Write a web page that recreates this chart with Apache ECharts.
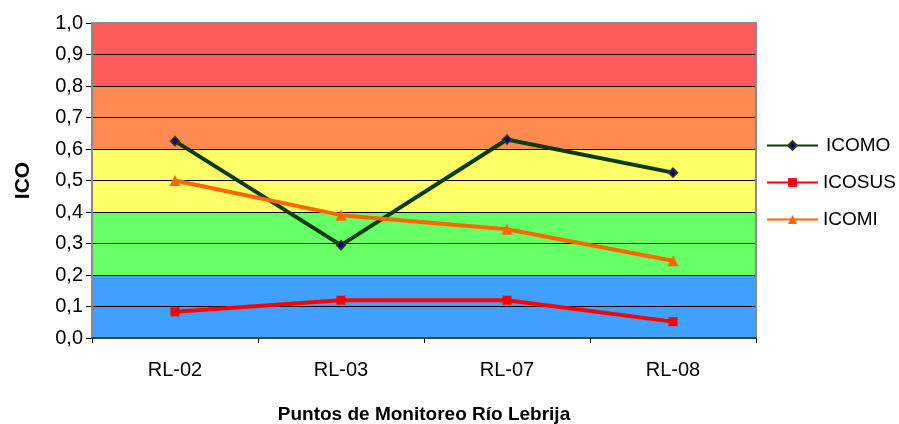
<!DOCTYPE html>
<html>
<head>
<meta charset="utf-8">
<script src="https://cdn.jsdelivr.net/npm/echarts@6/dist/echarts.min.js"></script>
<style>
html,body{margin:0;padding:0;background:#fff;}
#chart{width:899px;height:424px;}
</style>
</head>
<body>
<div id="chart"></div>
<script>
const categories = ['RL-02', 'RL-03', 'RL-07', 'RL-08'];
const icomo = [0.625, 0.295, 0.63, 0.525];
const icosus = [0.083, 0.12, 0.12, 0.052];
const icomi = [0.50, 0.39, 0.345, 0.245];
const bandLimits = [0, 0.2, 0.4, 0.6, 0.8, 1.0];
const bandColors = ['#40A0FF', '#66FF66', '#FFFF66', '#FF8B52', '#FF5B5B'];
const yTicks = [0, 0.1, 0.2, 0.3, 0.4, 0.5, 0.6, 0.7, 0.8, 0.9, 1.0];

const FONT = 'Liberation Sans, Arial, sans-serif';
const bandAreas = bandColors.map((c, i) => [
  { yAxis: bandLimits[i], itemStyle: { color: c } },
  { yAxis: bandLimits[i + 1] }
]);

const chart = echarts.init(document.getElementById('chart'));
chart.setOption({
  backgroundColor: '#fff',
  animation: false,
  grid: { left: 92, right: 143, top: 23, bottom: 86, containLabel: false, outerBoundsMode: 'none',
    show: true, borderColor: '#8a8a8a', borderWidth: 2, backgroundColor: 'transparent', z: 5 },
  legend: {
    orient: 'vertical',
    left: 766,
    top: 136,
    padding: 0,
    itemWidth: 51,
    itemHeight: 11,
    itemGap: 18,
    data: ['ICOMO', 'ICOSUS', 'ICOMI'],
    textStyle: { fontFamily: FONT, fontSize: 19, color: '#000',
      rich: { p: { padding: [0, 0, 0, 3], fontFamily: FONT, fontSize: 19, color: '#000' } } },
    formatter: n => n === 'ICOMO' ? '{p|' + n + '}' : n
  },
  xAxis: {
    type: 'category',
    data: categories,
    boundaryGap: true,
    name: 'Puntos de Monitoreo Río Lebrija',
    nameLocation: 'middle',
    nameGap: 67,
    nameTextStyle: { fontFamily: FONT, fontSize: 19, fontWeight: 'bold', color: '#000' },
    axisLine: { lineStyle: { color: '#404040', width: 2 } },
    axisTick: { show: true, length: 5, lineStyle: { color: '#000' } },
    axisLabel: { fontFamily: FONT, fontSize: 20, color: '#000', margin: 22 },
    z: 6
  },
  yAxis: {
    type: 'value',
    min: 0, max: 1, interval: 0.1,
    name: 'ICO',
    nameLocation: 'middle',
    nameGap: 58,
    nameRotate: 90,
    nameTextStyle: { fontFamily: FONT, fontSize: 21, fontWeight: 'bold', color: '#000' },
    axisLine: { show: true, lineStyle: { color: '#404040', width: 2 } },
    axisTick: { show: true, length: 6, lineStyle: { color: '#000' } },
    axisLabel: { fontFamily: FONT, fontSize: 20, color: '#000', margin: 9,
      formatter: v => yTicks.includes(Math.round(v * 10) / 10) ? (Math.round(v * 10) / 10).toFixed(1).replace('.', ',') : '' },
    splitLine: { show: true, lineStyle: { color: '#000', width: 1 } },
    z: 2
  },
  series: [
    {
      name: 'bands', type: 'line', data: [], z: 1, silent: true,
      markArea: { silent: true, data: bandAreas }
    },
    {
      name: 'ICOMO', type: 'line', data: icomo, z: 3,
      symbol: 'diamond', symbolSize: 9,
      lineStyle: { color: '#0B3B0B', width: 4 },
      itemStyle: { color: '#000080', borderColor: '#3A3A10', borderWidth: 1.5 }
    },
    {
      name: 'ICOSUS', type: 'line', data: icosus, z: 3,
      symbol: 'rect', symbolSize: 9,
      lineStyle: { color: '#FF0000', width: 4 },
      itemStyle: { color: '#FF0000' }
    },
    {
      name: 'ICOMI', type: 'line', data: icomi, z: 3,
      symbol: 'triangle', symbolSize: 11,
      lineStyle: { color: '#FF6600', width: 4 },
      itemStyle: { color: '#FF6600' }
    }
  ]
});
</script>
</body>
</html>
